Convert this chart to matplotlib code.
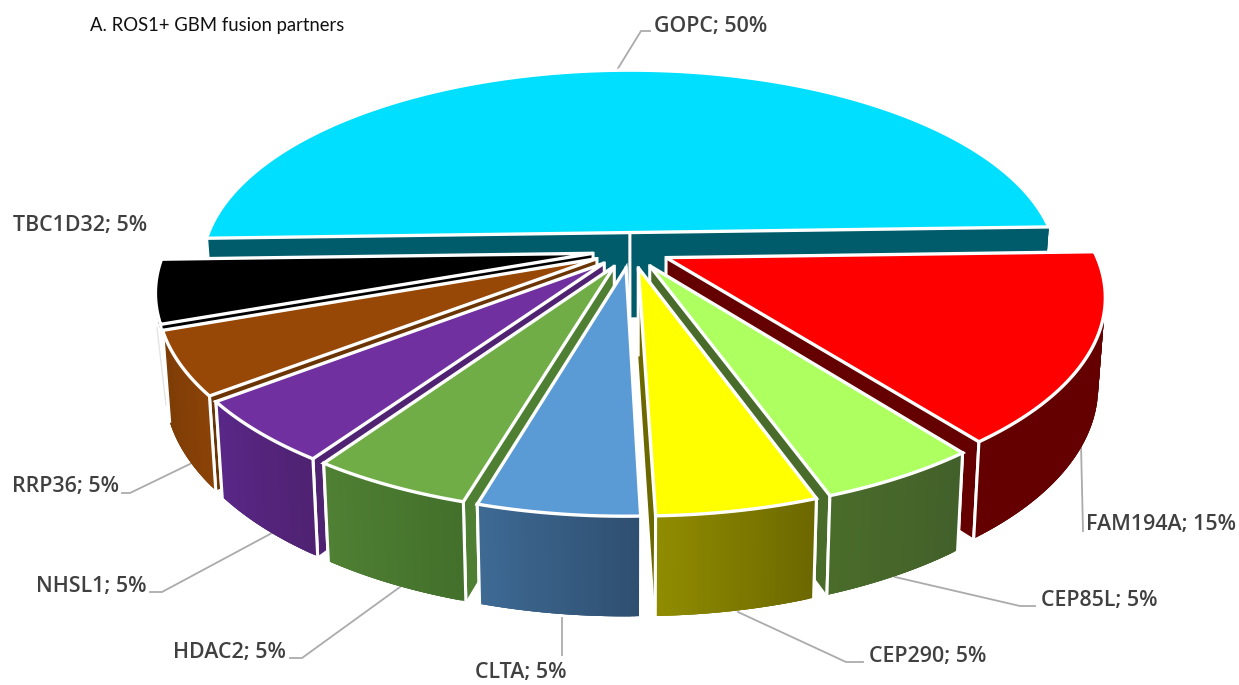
import numpy as np
import matplotlib
matplotlib.use('Agg')
import matplotlib.pyplot as plt
from matplotlib.patches import Polygon
from matplotlib.colors import to_rgb

genes = ['GOPC', 'FAM194A', 'CEP85L', 'CEP290', 'CLTA', 'HDAC2', 'NHSL1', 'RRP36', 'TBC1D32']
percent = [50, 15, 5, 5, 5, 5, 5, 5, 5]

top_colors = ['#00DFFF', '#FF0000', '#AEFF60', '#FFFF00', '#5B9BD5', '#70AD47', '#7030A0', '#974706', '#000000']
wall_left = ['#005B6B', '#640000', '#4A6C2A', '#908C00', '#3E6A94', '#4F8033', '#5A2788', '#7C3C06', '#000000']
wall_right = ['#005B6B', '#640000', '#42602A', '#6C6800', '#2F4F70', '#43702B', '#4F2272', '#8A4207', '#000000']
cut_colors = ['#005B6B', '#640000', '#4A6C2A', '#6C6800', '#2F4F70', '#4F7F33', '#4F2272', '#6A3404', '#000000']
# the black slice only shows a thin strip of wall
wall_depth = [1, 1, 1, 1, 1, 1, 1, 1, 0.08]

# camera settings for the tilted disc
cx, cy = 631, 250
R, B = 428, 197
persp = 0.178
explode = 0.09
start = -1.7
shrink = 0.985


def project(u, v, depth=0):
    w = 1 / (1 - persp * v)
    x = cx + R * u * w
    y = cy + B * v * w
    if depth:
        x = cx + (x - cx) * (1 - (1 - shrink) * depth)
        y = y + (86 + 13 * v) * depth
    return x, y


fig = plt.figure(figsize=(12.39, 6.85), dpi=100)
ax = fig.add_axes([0, 0, 1, 1])
ax.set_xlim(0, 1239)
ax.set_ylim(685, 0)
ax.axis('off')

edges = start + np.cumsum([0] + percent) * 3.6 - 180
slices = []
for i in range(len(genes)):
    a0, a1 = edges[i], edges[i + 1]
    mid = np.radians((a0 + a1) / 2)
    slices.append((np.sin(mid) if i else -1, i, a0, a1, mid))
slices.sort()

z = 3
for _, i, a0, a1, mid in slices:
    du, dv = explode * np.cos(mid), explode * np.sin(mid)
    t = np.radians(np.linspace(a0, a1, max(int(a1 - a0) * 2, 12)))
    u = du + np.cos(t)
    v = dv + np.sin(t)
    d = wall_depth[i]
    hi = np.array(project(u, v)).T
    lo = np.array(project(u, v, d)).T
    hi0 = project(du, dv)
    lo0 = project(du, dv, d)

    # the two cut faces, the one further back first
    faces = [(hi[0], lo[0]), (hi[-1], lo[-1])]
    faces.sort(key=lambda f: f[0][1])
    for a, b in faces:
        ax.add_patch(Polygon([hi0, a, b, lo0], fc=cut_colors[i], ec='none', zorder=z))
        z += 1
        ax.plot([a[0], b[0]], [a[1], b[1]], color='white', lw=2.2, zorder=z)
        z += 1
    ax.plot([hi0[0], lo0[0]], [hi0[1], lo0[1]], color='white', lw=2.2, zorder=z)
    z += 1

    # outer wall, shaded along the arc; quads overlap so no seams show
    c0, c1 = np.array(to_rgb(wall_left[i])), np.array(to_rgb(wall_right[i]))
    for j in range(len(t) - 1):
        f = j / (len(t) - 2)
        c = c1 * (1 - f) + c0 * f
        e = min(j + 3, len(t) - 1)
        ax.add_patch(Polygon([hi[j], hi[e], lo[e], lo[j]], fc=c, ec='none', zorder=z))
        z += 1
    for k in [0, -1]:
        if np.sin(t[k]) > 0:
            ax.plot([hi[k][0], lo[k][0]], [hi[k][1], lo[k][1]], color='white', lw=2.2, zorder=z)
    z += 1

    ax.add_patch(Polygon(np.vstack([hi0, hi]), fc=top_colors[i], ec='white', lw=2.4,
                         joinstyle='miter', zorder=z))
    z += 1

# callouts: label centre, then the leader polyline
labels = {
    'GOPC': ((711, 26), [(617, 70), (641, 31), (650, 31)]),
    'FAM194A': ((1161, 525), [(1081, 445), (1083, 531)]),
    'CEP85L': ((1099, 601), [(895, 577), (1020, 606), (1035, 606)]),
    'CEP290': ((928, 656), [(738, 612), (846, 662), (863, 662)]),
    'CLTA': ((521, 672), [(562, 618), (562, 655)]),
    'HDAC2': ((229, 653), [(400, 587), (302, 658), (290, 658)]),
    'NHSL1': ((91, 586), [(272, 533), (162, 592), (150, 592)]),
    'RRP36': ((65, 486), [(192, 463), (130, 493), (122, 493)]),
    'TBC1D32': ((80, 225), []),
}
for gene, pct in zip(genes, percent):
    pos, leader = labels[gene]
    ax.text(pos[0], pos[1], '%s; %d%%' % (gene, pct), ha='center', va='center',
            fontsize=15.4, family='Open Sans', weight='semibold', color='#404040', zorder=z + 1)
    if leader:
        xs, ys = zip(*leader)
        ax.plot(xs, ys, color='#ABABAB', lw=1.3, zorder=2)

# faint remainder of the black slice's leader
ax.plot([157, 166], [328, 405], color='#E4E4E4', lw=1, zorder=2)

ax.text(90, 25, 'A. ROS1+ GBM fusion partners', ha='left', va='center',
        fontsize=13.35, family='Lato', color='#111111')

fig.savefig('out.png', dpi=100, facecolor='white')
